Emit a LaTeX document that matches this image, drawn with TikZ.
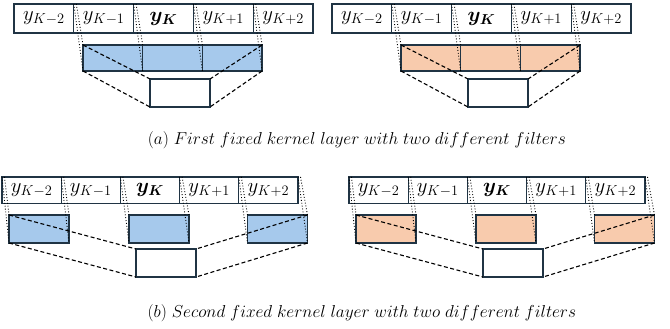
\documentclass[tikz,border=0pt]{standalone}
\usepackage{amsmath,bm}
\usetikzlibrary{
    positioning,      % For placing the cells next to each other
    calc
}

\definecolor{cellline}{RGB}{32,52,68}
\definecolor{filterblue}{RGB}{166,201,236}
\definecolor{filterorange}{RGB}{248,203,173}
\DeclareMathSizes{20}{20}{15}{11}

\begin{document}
\begin{tikzpicture}[
    % Global style settings (1 unit = 1 pixel of the figure, y going down)
    x=1pt, y=-1pt,
    node distance=0pt,
    cell_base/.style={
        draw=cellline,
        line width=1.3pt,
        inner sep=0pt,
        outer sep=0pt
    },
    seq_cell/.style={ % cells of the input sequence
        cell_base,
        fill=white,
        minimum width=59.8pt,
        minimum height=29pt,
        font=\fontsize{20}{22}\selectfont
    },
    filter_cell/.style={ % coloured kernel cells
        cell_base,
        minimum width=59.7pt,
        minimum height=26pt
    },
    out_cell/.style={ % output cell
        cell_base,
        fill=white,
        minimum width=60pt,
        minimum height=28pt
    },
    map_line/.style={
        dotted,
        line width=0.9pt
    },
    span_line/.style={
        line width=1.1pt,
        dash pattern=on 4pt off 2.5pt
    },
    caption_style/.style={
        font=\fontsize{16}{19}\selectfont,
        inner sep=0pt
    }
]
    \useasboundingbox (0,0) rectangle (670,329);

    % 1. First fixed kernel layer: one panel per filter
    \foreach \pn/\dx/\fc in {l/0/filterblue, r/318/filterorange} {
        \begin{scope}[xshift=\dx pt]
            % input sequence
            \node[seq_cell] (a\pn t1) at (43.9,18.5) {$y_{K-2}$};
            \node[seq_cell, right=of a\pn t1] (a\pn t2) {$y_{K-1}$};
            \node[seq_cell, right=of a\pn t2] (a\pn t3) {$\bm{y_K}$};
            \node[seq_cell, right=of a\pn t3] (a\pn t4) {$y_{K+1}$};
            \node[seq_cell, right=of a\pn t4] (a\pn t5) {$y_{K+2}$};

            % kernel cells and output
            \node[filter_cell, fill=\fc] (a\pn b1) at (112.85,58) {};
            \node[filter_cell, fill=\fc, right=of a\pn b1] (a\pn b2) {};
            \node[filter_cell, fill=\fc, right=of a\pn b2] (a\pn b3) {};
            \node[out_cell] (a\pn w) at (180,93) {};
        \end{scope}

        % dotted lines from the inputs to the kernel
        \foreach \t/\b in {t2/b1, t3/b2, t4/b3} {
            \draw[map_line] (a\pn\t.north west) -- (a\pn\b.south west);
            \draw[map_line] ([xshift=2.5pt]a\pn\t.north west) -- (a\pn\b.north west);
        }
        \draw[map_line] (a\pn t4.north east) -- (a\pn b3.south east);
        \draw[map_line] ([xshift=2.5pt]a\pn t4.north east) -- (a\pn b3.north east);

        % dashed lines from the kernel to the output
        \draw[span_line] (a\pn b1.north west) -- (a\pn w.north west);
        \draw[span_line] (a\pn b1.south west) -- (a\pn w.south west);
        \draw[span_line] (a\pn b3.north east) -- (a\pn w.north east);
        \draw[span_line] (a\pn b3.south east) -- (a\pn w.south east);
    }

    \node[caption_style] (caption_a) at (357,140)
        {$(a)\ First\ fixed\ kernel\ layer\ with\ two\ different\ filters$};

    % 2. Second fixed kernel layer (dilated): one panel per filter
    \foreach \pn/\dx/\fc in {l/0/filterblue, r/347/filterorange} {
        \begin{scope}[xshift=\dx pt]
            % input sequence
            \node[seq_cell, minimum width=59.2pt, minimum height=26.5pt] (b\pn t1) at (31.6,190.2) {$y_{K-2}$};
            \node[seq_cell, minimum width=59.2pt, minimum height=26.5pt, right=of b\pn t1] (b\pn t2) {$y_{K-1}$};
            \node[seq_cell, minimum width=59.2pt, minimum height=26.5pt, right=of b\pn t2] (b\pn t3) {$\bm{y_K}$};
            \node[seq_cell, minimum width=59.2pt, minimum height=26.5pt, right=of b\pn t3] (b\pn t4) {$y_{K+1}$};
            \node[seq_cell, minimum width=59.2pt, minimum height=26.5pt, right=of b\pn t4] (b\pn t5) {$y_{K+2}$};

            % kernel cells and output
            \node[filter_cell, fill=\fc, minimum width=60pt, minimum height=28pt] (b\pn b1) at (39,229) {};
            \node[filter_cell, fill=\fc, minimum width=60pt, minimum height=28pt] (b\pn b2) at (159,229) {};
            \node[filter_cell, fill=\fc, minimum width=60pt, minimum height=28pt] (b\pn b3) at (277.5,229) {};
            \node[out_cell] (b\pn w) at (166,263) {};
        \end{scope}

        % dotted lines from the inputs to the kernel
        \foreach \t/\b in {t1/b1, t3/b2, t5/b3} {
            \draw[map_line] (b\pn\t.north west) -- (b\pn\b.south west);
            \draw[map_line] ([xshift=2.5pt]b\pn\t.north west) -- (b\pn\b.north west);
            \draw[map_line] (b\pn\t.north east) -- (b\pn\b.south east);
            \draw[map_line] ([xshift=2.5pt]b\pn\t.north east) -- (b\pn\b.north east);
        }

        % dashed lines from the kernel to the output
        \draw[span_line] (b\pn b1.north west) -- (b\pn w.north west);
        \draw[span_line] (b\pn b1.south west) -- (b\pn w.south west);
        \draw[span_line] (b\pn b3.north east) -- (b\pn w.north east);
        \draw[span_line] (b\pn b3.south east) -- (b\pn w.south east);
    }

    \node[caption_style] (caption_b) at (362,313)
        {$(b)\ Second\ fixed\ kernel\ layer\ with\ two\ different\ filters$};

\end{tikzpicture}
\end{document}
